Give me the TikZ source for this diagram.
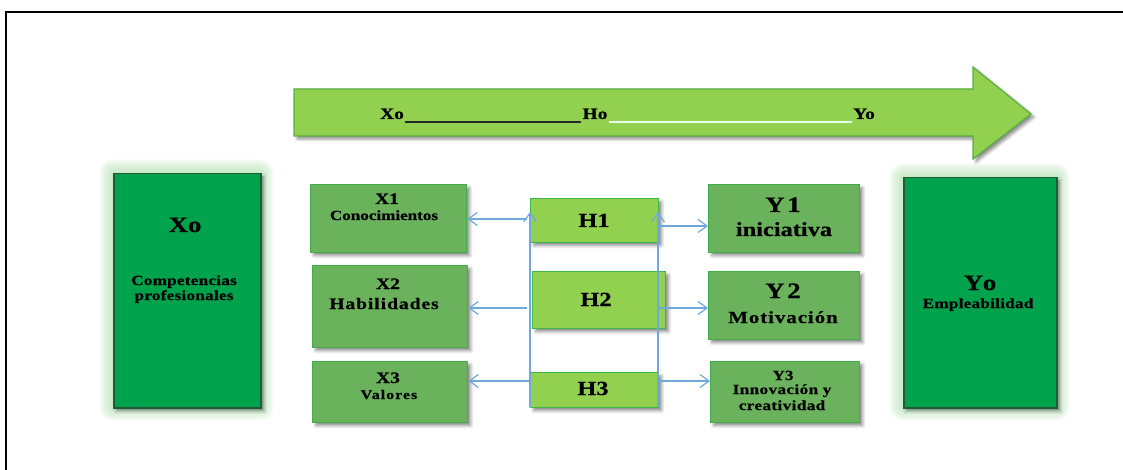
\documentclass[tikz,border=0pt]{standalone}
\usepackage{fontspec}
\setmainfont{Liberation Serif}[FakeStretch=1.22, BoldFeatures={FakeBold=0.6}]
\usetikzlibrary{arrows.meta,shadows.blur,calc}
\definecolor{dkgreen}{HTML}{00A24B}
\definecolor{dkborder}{HTML}{1E5C38}
\definecolor{mdgreen}{HTML}{6BB25C}
\definecolor{mdborder}{HTML}{3FAE48}
\definecolor{ltgreen}{HTML}{92D050}
\definecolor{ltborder}{HTML}{3CB54A}
\definecolor{arrborder}{HTML}{5AAE40}
\definecolor{blu}{HTML}{6FA8DC}
\definecolor{glowc}{HTML}{9ED89E}
\newcommand{\fs}[1]{\fontsize{#1}{#1}\selectfont}
\newcommand{\lsp}[1]{\addfontfeature{LetterSpace=#1}}
\tikzset{
  shd/.style={blur shadow={shadow xshift=3pt, shadow yshift=-3pt, shadow blur radius=3pt, shadow opacity=45}},
  bigbox/.style={draw=dkborder, fill=dkgreen, line width=1.5pt, shd, anchor=north west, inner sep=0pt},
  midbox/.style={draw=mdborder, fill=mdgreen, line width=1.3pt, shd, anchor=north west, inner sep=0pt},
  hbox/.style={draw=ltborder, fill=ltgreen, line width=1.3pt, shd, anchor=north west, inner sep=0pt},
  lbl/.style={inner sep=0pt, anchor=base, font=\bfseries, align=center},
  conn/.style={draw=blu, line width=1.2pt, -{Straight Barb[length=9pt, width=13pt]}},
}
\begin{document}
\begin{tikzpicture}[x=1pt,y=-1pt]
\useasboundingbox (0,0) rectangle (1123,470);
% frame
\draw[line width=1.5pt] (1123,12) -- (6,12) -- (6,470);
% big arrow
\draw[fill=ltgreen, draw=arrborder, line width=1.2pt, shd]
  (294,89) -- (973,89) -- (973,67) -- (1031,114) -- (973,159) -- (973,136) -- (294,136) -- cycle;
\node[lbl, font=\bfseries\fs{16}] (ax) at (392,119) {Xo};
\node[lbl, font=\bfseries\fs{16}] (ah) at (595,119) {Ho};
\node[lbl, font=\bfseries\fs{16}] (ay) at (864,119) {Yo};
\draw[line width=1.8pt, black!85] ($(ax.base east)+(1,3)$) -- ($(ah.base west)+(-1,3)$);
\draw[line width=1.8pt, white!92!green] ($(ah.base east)+(1,3)$) -- ($(ay.base west)+(-1,3)$);
% glows
\foreach \r in {1,...,14}{
  \fill[glowc, opacity=0.055, rounded corners=\r pt] (113-\r,173-\r) rectangle (260+\r,407+\r);
  \fill[glowc, opacity=0.055, rounded corners=\r pt] (903-\r,177-\r) rectangle (1056+\r,407+\r);
}
% boxes
\node[bigbox, minimum width=147pt, minimum height=234pt] (xo) at (113,173) {};
\node[bigbox, minimum width=153pt, minimum height=230pt] (yo) at (903,177) {};
\node[midbox, minimum width=156pt, minimum height=68pt] (x1) at (310,184) {};
\node[midbox, minimum width=155pt, minimum height=82pt] (x2) at (312,265) {};
\node[midbox, minimum width=155pt, minimum height=61pt] (x3) at (312,361) {};
\node[midbox, minimum width=151pt, minimum height=68pt] (y1) at (708,184) {};
\node[midbox, minimum width=151pt, minimum height=68pt] (y2) at (708,271) {};
\node[midbox, minimum width=149pt, minimum height=61pt] (y3) at (710,361) {};
\node[hbox, minimum width=128pt, minimum height=44pt] (h1) at (530,198) {};
\node[hbox, minimum width=133pt, minimum height=57pt] (h2) at (532,271) {};
\node[hbox, minimum width=128pt, minimum height=35pt] (h3) at (530,372) {};
% labels
\node[lbl, font=\bfseries\fs{22}] at (185,232) {Xo};
\node[lbl, font=\bfseries\fs{14}\lsp{2}] at (184,285) {Competencias};
\node[lbl, font=\bfseries\fs{14}\lsp{2}] at (184,300) {profesionales};
\node[lbl, font=\bfseries\fs{16}] at (387,204) {X1};
\node[lbl, font=\bfseries\fs{14}] at (384,220) {Conocimientos};
\node[lbl, font=\bfseries\fs{16}] at (388,289) {X2};
\node[lbl, font=\bfseries\fs{16}\lsp{6}] at (384,309) {Habilidades};
\node[lbl, font=\bfseries\fs{16}] at (388,383) {X3};
\node[lbl, font=\bfseries\fs{13}\lsp{8}] at (389,399) {Valores};
\node[lbl, font=\bfseries\fs{20}] at (594,227) {H1};
\node[lbl, font=\bfseries\fs{20}] at (596,306) {H2};
\node[lbl, font=\bfseries\fs{20}] at (593,395) {H3};
\node[lbl, font=\bfseries\fs{22}\lsp{12}] at (783,212) {Y1};
\node[lbl, font=\bfseries\fs{20}] at (784,236) {iniciativa};
\node[lbl, font=\bfseries\fs{22}\lsp{12}] at (783,298) {Y2};
\node[lbl, font=\bfseries\fs{17}\lsp{6}] at (783,323) {Motivación};
\node[lbl, font=\bfseries\fs{14}] at (783,380) {Y3};
\node[lbl, font=\bfseries\fs{14}\lsp{3}] at (782,394) {Innovación y};
\node[lbl, font=\bfseries\fs{14}\lsp{3}] at (782,410) {creatividad};
\node[lbl, font=\bfseries\fs{22}\lsp{12}] at (980,290) {Yo};
\node[lbl, font=\bfseries\fs{14}\lsp{2}] at (978,308) {Empleabilidad};
% connectors
\coordinate (vLtop) at (530,212);
\coordinate (vLbot) at (530,407);
\coordinate (vRtop) at (658,212);
\coordinate (vRbot) at (658,407);
\draw[conn] (vLbot) -- (vLtop);
\draw[conn] (vRbot) -- (vRtop);
\coordinate (l1) at (527,219);
\coordinate (l2) at (527,308);
\coordinate (l3) at (530,381);
\coordinate (r1) at (658,226);
\coordinate (r2) at (658,308);
\coordinate (r3) at (658,381);
\draw[conn] (l1) -- (l1 -| x1.east);
\draw[conn] (l2) -- (l2 -| x2.east);
\draw[conn] (l3) -- (l3 -| x3.east);
\draw[conn] (r1) -- (r1 -| y1.west);
\draw[conn] (r2) -- (r2 -| y2.west);
\draw[conn] (r3) -- (r3 -| y3.west);
\end{tikzpicture}
\end{document}
